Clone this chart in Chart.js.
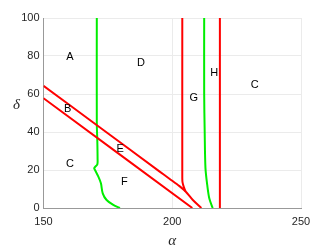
<!DOCTYPE html>
<html>
<head>
<meta charset="utf-8">
<script src="https://cdn.jsdelivr.net/npm/chart.js@4"></script>
<style>
  html, body { margin: 0; padding: 0; background: #fff; }
  #chart { display: block; }
</style>
</head>
<body>
<canvas id="chart" width="332" height="249"></canvas>
<script>
// curves (alpha, delta)
const green1A = [170.7, 170.7, 170.9, 171.0, 170.9, 169.7, 170.0, 171.3, 172.3, 173.0, 174.5, 177.1, 179.7];
const green1D = [100, 45, 35, 26, 23, 21, 20, 16.5, 13, 7.7, 4.2, 1.6, 0];

const green2A = [212.4, 212.4, 212.6, 212.9, 213.6, 214.4, 215.7];
const green2D = [100, 60, 40, 21, 12, 5, 0];

const redUpA = [150, 171.8, 195.0, 198.9, 202.8, 205.1, 208.0, 211.3];
const redUpD = [64.3, 42.5, 19.3, 15.4, 11.5, 8.8, 4.2, 0];

const redLowA = [150, 207.8];
const redLowD = [57.8, 0];

const redV1A = [203.9, 203.9, 204.0, 204.5, 205.1];
const redV1D = [100, 15.5, 13.5, 11.0, 8.8];

const redV2A = [218.5, 218.5];
const redV2D = [100, 0];

// region labels
const regionNames = ["A", "D", "B", "G", "H", "C", "E", "C", "F"];
const regionA = [160.3, 187.9, 159.4, 208.4, 216.3, 232.0, 179.8, 160.3, 181.4];
const regionD = [79.4, 76.3, 52.0, 58.1, 71.0, 64.8, 30.9, 23.2, 13.9];

const xTicks = [150, 200, 250];
const yTicks = [0, 20, 40, 60, 80, 100];

function pts(xs, ys) {
  return xs.map((x, i) => ({ x: x, y: ys[i] }));
}

function line(xs, ys, color) {
  return {
    data: pts(xs, ys),
    showLine: true,
    borderColor: color,
    borderWidth: 2,
    pointRadius: 0,
    fill: false,
    tension: 0.3,
  };
}

const labelsPlugin = {
  id: "labels",
  afterDatasetsDraw(chart) {
    const ctx = chart.ctx;
    const xs = chart.scales.x;
    const ys = chart.scales.y;
    ctx.save();
    ctx.fillStyle = "#000";
    ctx.font = "11px 'Liberation Sans', Arial, sans-serif";
    ctx.textAlign = "center";
    ctx.textBaseline = "middle";
    regionNames.forEach((n, i) => {
      ctx.fillText(n, xs.getPixelForValue(regionA[i]), ys.getPixelForValue(regionD[i]));
    });
    // axis titles
    ctx.fillStyle = "#262626";
    ctx.font = "italic 15px 'Liberation Serif', 'DejaVu Serif', serif";
    const area = chart.chartArea;
    ctx.fillText("α", (area.left + area.right) / 2, 241);
    ctx.fillText("δ", 16.5, 105);
    ctx.restore();
  },
};

new Chart(document.getElementById("chart"), {
  type: "scatter",
  data: {
    datasets: [
      line(redUpA, redUpD, "#ff0000"),
      line(redLowA, redLowD, "#ff0000"),
      line(redV1A, redV1D, "#ff0000"),
      line(redV2A, redV2D, "#ff0000"),
      line(green1A, green1D, "#00ee00"),
      line(green2A, green2D, "#00ee00"),
    ],
  },
  options: {
    responsive: false,
    animation: false,
    layout: { padding: { left: 0, right: 31, top: 18, bottom: 0 } },
    plugins: { legend: { display: false }, tooltip: { enabled: false } },
    scales: {
      x: {
        type: "linear",
        min: 150,
        max: 250,
        afterBuildTicks: (s) => { s.ticks = xTicks.map((v) => ({ value: v })); },
        afterFit: (s) => { s.height = 41; },
        grid: { color: "#ebebeb", drawTicks: false },
        border: { color: "#999999", width: 1 },
        ticks: {
          padding: 7,
          color: "#262626",
          font: { family: "'Liberation Sans', Arial, sans-serif", size: 11 },
          maxRotation: 0,
        },
      },
      y: {
        type: "linear",
        min: 0,
        max: 100,
        afterBuildTicks: (s) => { s.ticks = yTicks.map((v) => ({ value: v })); },
        afterFit: (s) => { s.width = 43.5; },
        grid: { color: "#ebebeb", drawTicks: false },
        border: { color: "#999999", width: 1 },
        ticks: {
          padding: 4,
          color: "#262626",
          font: { family: "'Liberation Sans', Arial, sans-serif", size: 11 },
        },
      },
    },
  },
  plugins: [labelsPlugin],
});
</script>
</body>
</html>
